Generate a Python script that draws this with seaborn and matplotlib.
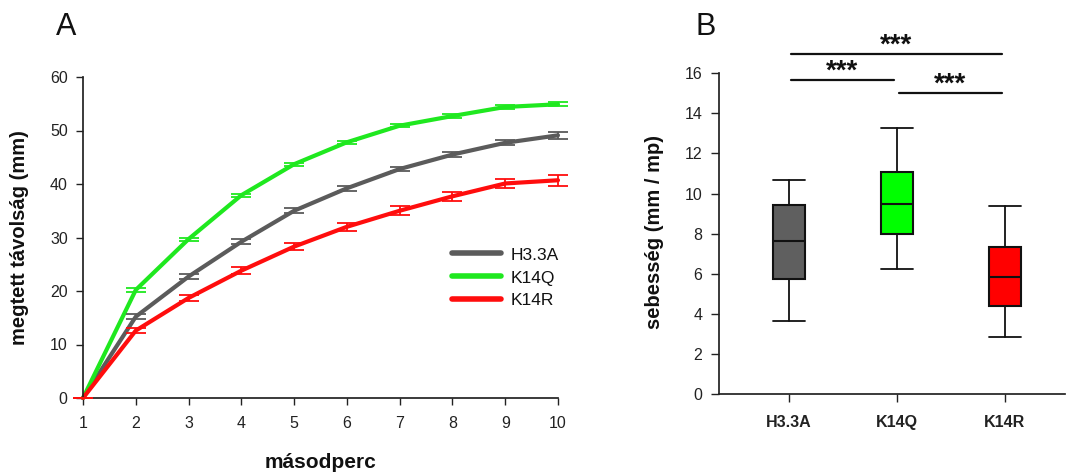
import numpy as np
import pandas as pd
import matplotlib
matplotlib.use("Agg")
import matplotlib.pyplot as plt
import seaborn as sns

# ---------------- data ----------------
seconds = [1, 2, 3, 4, 5, 6, 7, 8, 9, 10]
series_names = ["H3.3A", "K14Q", "K14R"]
h33a_mean = [0, 15.2, 22.7, 29.2, 35.0, 39.2, 42.8, 45.5, 47.7, 49.1]
h33a_err = [0, 0.5, 0.45, 0.45, 0.45, 0.45, 0.45, 0.45, 0.5, 0.6]
k14q_mean = [0, 20.2, 29.7, 37.9, 43.7, 47.8, 50.9, 52.7, 54.4, 54.9]
k14q_err = [0, 0.35, 0.3, 0.3, 0.3, 0.3, 0.3, 0.3, 0.3, 0.4]
k14r_mean = [0, 12.6, 18.7, 23.8, 28.3, 32.0, 35.0, 37.7, 40.1, 40.7]
k14r_err = [0, 0.5, 0.5, 0.6, 0.7, 0.75, 0.8, 0.8, 0.9, 1.0]

groups = ["H3.3A", "K14Q", "K14R"]
whisker_low = [3.66, 6.22, 2.83]
quartile1 = [5.72, 7.99, 4.39]
median = [7.64, 9.47, 5.86]
quartile3 = [9.45, 11.07, 7.35]
whisker_high = [10.67, 13.28, 9.40]

# significance brackets: (start group, end group, level)
sig_pairs = [(0, 2, 16.97), (0, 1, 15.66), (1, 2, 15.01)]
sig_label = "***"

line_colors = {"H3.3A": "#5b5b5b", "K14Q": "#1fe81f", "K14R": "#ff0d0d"}
box_colors = ["#5f5f5f", "#00ff00", "#ff0000"]

# ---------------- style ----------------
sns.set_theme(style="ticks")
plt.rcParams["font.family"] = ["Liberation Sans", "DejaVu Sans"]
plt.rcParams["axes.edgecolor"] = "#222222"
plt.rcParams["xtick.color"] = "#222222"
plt.rcParams["ytick.color"] = "#222222"
plt.rcParams["text.color"] = "#111111"

W, H = 1067, 472
fig = plt.figure(figsize=(W / 100, H / 100), dpi=100)

def px_axes(x0, y0, x1, y1):
    return fig.add_axes([x0 / W, 1 - y1 / H, (x1 - x0) / W, (y1 - y0) / H])

ax1 = px_axes(83, 77, 558, 398)
ax2 = px_axes(719, 73.3, 1065, 394)

# ---------------- panel A ----------------
means = {"H3.3A": h33a_mean, "K14Q": k14q_mean, "K14R": k14r_mean}
errs = {"H3.3A": h33a_err, "K14Q": k14q_err, "K14R": k14r_err}
df = pd.concat([
    pd.DataFrame({"masodperc": seconds, "tav": means[n], "err": errs[n], "csoport": n})
    for n in series_names
], ignore_index=True)

sns.lineplot(data=df, x="masodperc", y="tav", hue="csoport", hue_order=series_names,
             palette=line_colors, linewidth=3.0, errorbar=None, sort=False, ax=ax1,
             legend=True)
for line in ax1.lines:
    line.set_clip_on(False)
for n in series_names:
    sub = df[df["csoport"] == n]
    eb = ax1.errorbar(sub["masodperc"], sub["tav"], yerr=sub["err"], fmt="none",
                      ecolor=line_colors[n], elinewidth=1.3, capsize=7, capthick=1.3,
                      zorder=5)
    for art in eb.lines[1] + eb.lines[2]:
        art.set_clip_on(False)

ax1.set_xlim(1, 10)
ax1.set_ylim(0, 60)
ax1.set_xticks(seconds)
ax1.set_yticks(range(0, 61, 10))
ax1.set_xlabel("")
ax1.set_ylabel("")
sns.despine(ax=ax1)
ax1.tick_params(axis="both", direction="out", length=5, width=1, labelsize=11.5, pad=6)
ax1.tick_params(axis="x", pad=8)

handles, labels = ax1.get_legend_handles_labels()
leg = ax1.legend(handles, labels, loc="center left", bbox_to_anchor=(0.777, 0.374),
                 frameon=False, fontsize=12.5, handlelength=2.8, handletextpad=0.6,
                 labelspacing=0.45, borderpad=0, borderaxespad=0)
for h in leg.legend_handles:
    h.set_linewidth(4)

fig.text(20 / W, 1 - 238 / H, "megtett távolság (mm)", rotation=90, ha="center",
         va="center", fontsize=14.5, fontweight="bold")
fig.text(321 / W, 1 - 463 / H, "másodperc", ha="center", va="center",
         fontsize=15, fontweight="bold")
fig.text(66 / W, 1 - 27 / H, "A", ha="center", va="center", fontsize=22)

# ---------------- panel B ----------------
stats = [
    {"label": g, "whislo": lo, "q1": a, "med": m, "q3": b, "whishi": hi, "fliers": []}
    for g, lo, a, m, b, hi in zip(groups, whisker_low, quartile1, median, quartile3, whisker_high)
]
pos = list(range(len(groups)))
bp = ax2.bxp(stats, positions=pos, widths=0.3, patch_artist=True, showfliers=False,
             boxprops=dict(linewidth=1.5, edgecolor="#111111"),
             medianprops=dict(color="#111111", linewidth=1.5),
             whiskerprops=dict(color="#111111", linewidth=1.3),
             capprops=dict(color="#111111", linewidth=1.3), capwidths=0.29)
for patch, c in zip(bp["boxes"], box_colors):
    patch.set_facecolor(c)

ax2.set_xlim(-0.648, 2.556)
ax2.set_ylim(0, 16)
ax2.set_yticks(range(0, 17, 2))
ax2.set_xticks(pos)
ax2.set_xticklabels(groups, fontweight="bold", fontsize=12.5)
sns.despine(ax=ax2)
ax2.tick_params(axis="both", direction="out", length=6, width=1, labelsize=11.5, pad=6)
ax2.tick_params(axis="x", pad=9)

for a, b, y in sig_pairs:
    x0 = a + 0.02
    x1 = b - 0.03
    ax2.plot([x0, x1], [y, y], color="#111111", linewidth=1.6, clip_on=False)
    ax2.annotate(sig_label, xy=((x0 + x1) / 2, y), xytext=(0, 1), textcoords="offset points",
                 ha="center", va="baseline", fontsize=20, fontweight="bold",
                 annotation_clip=False)

fig.text(655 / W, 1 - 232 / H, "sebesség (mm / mp)", rotation=90, ha="center",
         va="center", fontsize=14.5, fontweight="bold")
fig.text(706 / W, 1 - 27 / H, "B", ha="center", va="center", fontsize=22)

fig.savefig("out.png", dpi=100)
